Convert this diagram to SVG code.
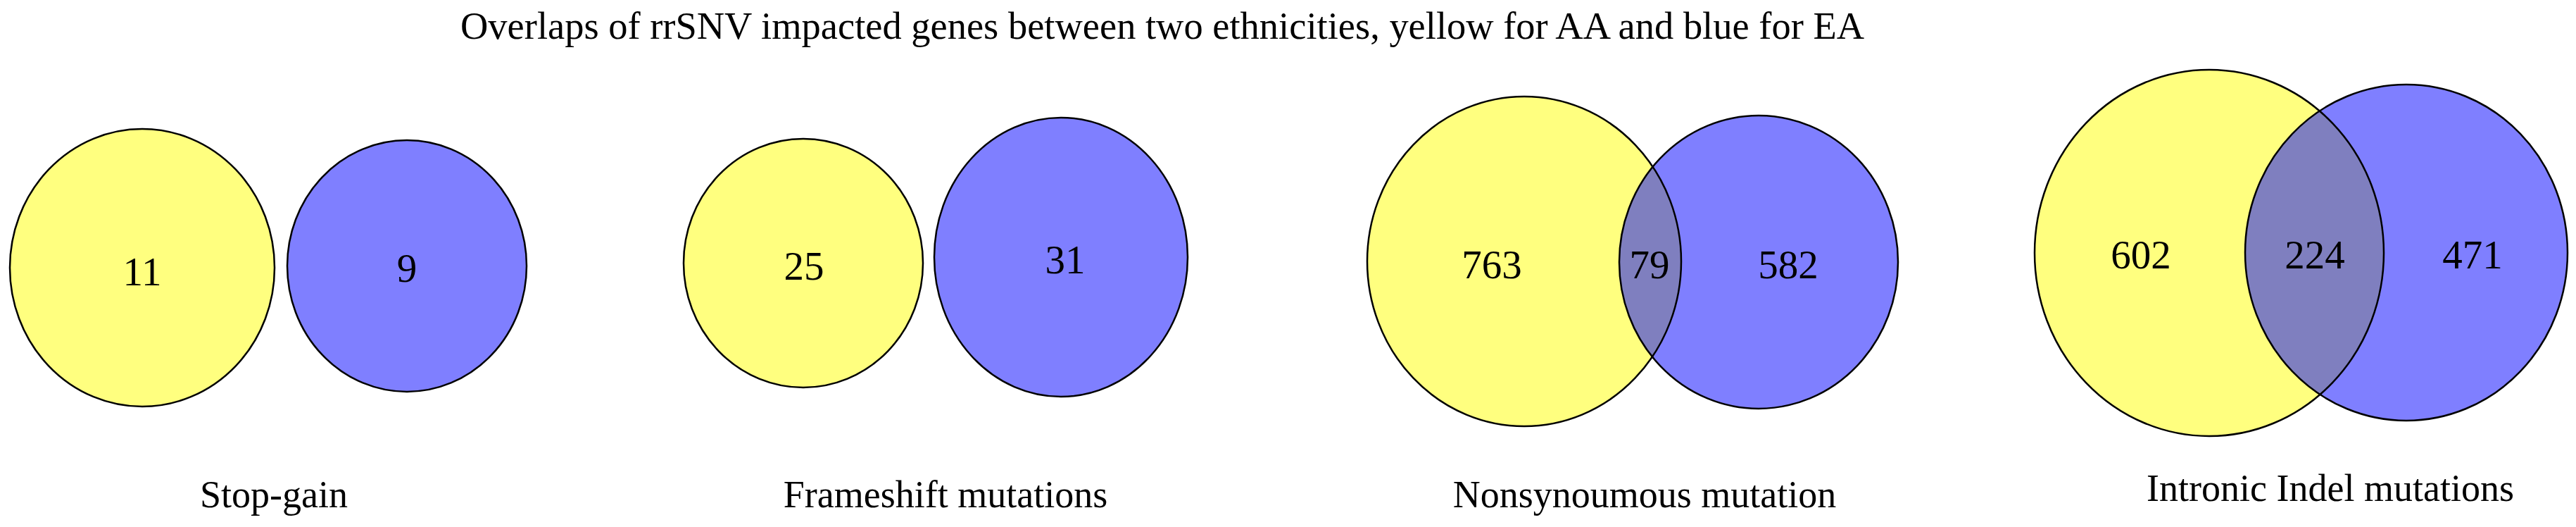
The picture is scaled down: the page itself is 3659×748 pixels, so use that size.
<svg xmlns="http://www.w3.org/2000/svg" xmlns:xlink="http://www.w3.org/1999/xlink" width="3659" height="748" viewBox="0 0 3659 748">
<style>
.bg{fill:#ffffff}
.aa{fill:#ffff00;fill-opacity:0.5;stroke:none}
.ea{fill:#0000ff;fill-opacity:0.5;stroke:none}
.ol{fill:none;stroke:#000000;stroke-width:2.5}
.num{font-family:"Liberation Serif","Times New Roman",serif;font-size:57px;fill:#000000;text-anchor:middle}
.lbl{font-family:"Liberation Serif","Times New Roman",serif;font-size:54px;fill:#000000;text-anchor:middle}
</style>
<rect class="bg" x="0" y="0" width="3659" height="748"/>
<text id="title" class="lbl" x="1651" y="55" textLength="1994" lengthAdjust="spacingAndGlyphs">Overlaps of rrSNV impacted genes between two ethnicities, yellow for AA and blue for EA</text>
<g id="stop-gain">
  <ellipse class="aa" cx="202" cy="380" rx="188" ry="197"/>
  <ellipse class="ea" cx="578" cy="377.5" rx="170" ry="178.5"/>
  <ellipse class="ol" cx="202" cy="380" rx="188" ry="197"/>
  <ellipse class="ol" cx="578" cy="377.5" rx="170" ry="178.5"/>
  <text class="num" x="202" y="405">11</text>
  <text class="num" x="578" y="400">9</text>
  <text class="lbl" x="389" y="720">Stop-gain</text>
</g>
<g id="frameshift">
  <ellipse class="aa" cx="1141" cy="373.5" rx="170" ry="176.5"/>
  <ellipse class="ea" cx="1507" cy="365" rx="180" ry="198"/>
  <ellipse class="ol" cx="1141" cy="373.5" rx="170" ry="176.5"/>
  <ellipse class="ol" cx="1507" cy="365" rx="180" ry="198"/>
  <text class="num" x="1142" y="397">25</text>
  <text class="num" x="1513" y="388">31</text>
  <text class="lbl" x="1343" y="720">Frameshift mutations</text>
</g>
<g id="nonsynonymous">
  <ellipse class="aa" cx="2165" cy="371" rx="223" ry="234"/>
  <ellipse class="ea" cx="2498" cy="372" rx="198" ry="208"/>
  <ellipse class="ol" cx="2165" cy="371" rx="223" ry="234"/>
  <ellipse class="ol" cx="2498" cy="372" rx="198" ry="208"/>
  <text class="num" x="2119" y="395">763</text>
  <text class="num" x="2343" y="395">79</text>
  <text class="num" x="2540" y="395">582</text>
  <text class="lbl" x="2336" y="720">Nonsynoumous mutation</text>
</g>
<g id="intronic-indel">
  <ellipse class="aa" cx="3138" cy="359" rx="248" ry="260"/>
  <ellipse class="ea" cx="3418" cy="358.5" rx="229" ry="238.5"/>
  <ellipse class="ol" cx="3138" cy="359" rx="248" ry="260"/>
  <ellipse class="ol" cx="3418" cy="358.5" rx="229" ry="238.5"/>
  <text class="num" x="3041" y="381">602</text>
  <text class="num" x="3288" y="381">224</text>
  <text class="num" x="3512" y="381">471</text>
  <text class="lbl" x="3310" y="711">Intronic Indel mutations</text>
</g>
</svg>
